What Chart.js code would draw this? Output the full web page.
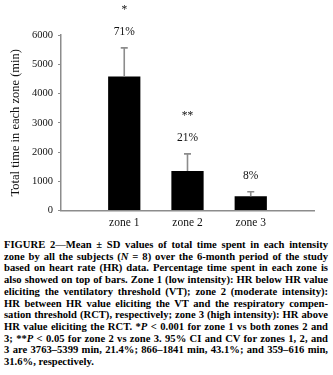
<!DOCTYPE html>
<html>
<head>
<meta charset="utf-8">
<script src="https://cdn.jsdelivr.net/npm/chart.js@4/dist/chart.umd.min.js"></script>
<style>
  html, body { margin: 0; padding: 0; background: #fff; }
  body { width: 333px; height: 375px; overflow: hidden; position: relative; }
  #wrap { position: absolute; left: 0; top: 0; width: 333px; height: 236px; }
  #caption { position: absolute; left: 4px; top: 239px; width: 324px;
    font-family: "Liberation Serif", "DejaVu Serif", serif; font-weight: bold;
    font-size: 10.6px; line-height: 11.7px; color: #000; }
  #caption div { text-align: justify; text-align-last: justify; white-space: nowrap; }
  #caption div.last { text-align-last: left; }
</style>
</head>
<body>
<div id="wrap"><canvas id="c"></canvas></div>
<div id="caption">
  <div>FIGURE 2—Mean ± SD values of total time spent in each intensity</div>
  <div>zone by all the subjects (<i>N</i> = 8) over the 6-month period of the study</div>
  <div>based on heart rate (HR) data. Percentage time spent in each zone is</div>
  <div>also showed on top of bars. Zone 1 (low intensity): HR below HR value</div>
  <div>eliciting the ventilatory threshold (VT); zone 2 (moderate intensity):</div>
  <div>HR between HR value eliciting the VT and the respiratory compen-</div>
  <div>sation threshold (RCT), respectively; zone 3 (high intensity): HR above</div>
  <div>HR value eliciting the RCT. *<i>P</i> &lt; 0.001 for zone 1 vs both zones 2 and</div>
  <div>3; **<i>P</i> &lt; 0.05 for zone 2 vs zone 3. 95% CI and CV for zones 1, 2, and</div>
  <div>3 are 3763–5399 min, 21.4%; 866–1841 min, 43.1%; and 359–616 min,</div>
  <div class="last">31.6%, respectively.</div>
</div>
<script>
// ---- data ----
const categories = ['', 'zone 1', 'zone 2', 'zone 3', ''];
const meanMinutes = [null, 4581, 1354, 488, null];
const sdMinutes = [null, 978, 583, 154, null];
const pctLabels = ['', '71%', '21%', '8%', ''];
const sigLabels = ['', '*', '**', '', ''];
const yTicks = [0, 1000, 2000, 3000, 4000, 5000, 6000];

// fit caption lines that overflow
document.querySelectorAll('#caption div').forEach(d => {
  const w = d.scrollWidth;
  if (w > 324) {
    d.style.letterSpacing = (-(w - 324) / d.textContent.length).toFixed(3) + 'px';
  }
});

const SERIF = '"Liberation Serif", "DejaVu Serif", serif';

const annotPlugin = {
  id: 'annot',
  afterDatasetsDraw(chart) {
    const ctx = chart.ctx;
    const meta = chart.getDatasetMeta(0);
    const y = chart.scales.y;
    ctx.save();
    meta.data.forEach((bar, i) => {
      if (meanMinutes[i] == null) return;
      const top = y.getPixelForValue(meanMinutes[i] + sdMinutes[i]);
      const base = y.getPixelForValue(meanMinutes[i]);
      // upper error whisker
      ctx.strokeStyle = '#8c8c8c';
      ctx.lineWidth = 1.6;
      ctx.beginPath();
      ctx.moveTo(bar.x, base);
      ctx.lineTo(bar.x, top);
      ctx.moveTo(bar.x - 3.5, top);
      ctx.lineTo(bar.x + 3.5, top);
      ctx.stroke();
      // labels
      ctx.fillStyle = '#111';
      ctx.textAlign = 'center';
      ctx.textBaseline = 'middle';
      ctx.font = '11.5px ' + SERIF;
      const pctY = top - 16;
      ctx.fillText(pctLabels[i], bar.x, pctY);
      if (sigLabels[i]) ctx.fillText(sigLabels[i], bar.x, pctY - 22);
    });
    ctx.restore();
  }
};

new Chart(document.getElementById('c'), {
  type: 'bar',
  data: {
    labels: categories,
    datasets: [{
      data: meanMinutes,
      backgroundColor: '#000',
      borderWidth: 0,
      categoryPercentage: 1,
      barPercentage: 0.51
    }]
  },
  options: {
    responsive: true,
    maintainAspectRatio: false,
    animation: false,
    layout: { padding: { top: 35, right: 19, left: 0, bottom: 0 } },
    plugins: { legend: { display: false }, tooltip: { enabled: false } },
    scales: {
      x: {
        offset: false,
        grid: { display: false, drawTicks: false },
        border: { display: true, color: '#8c8c8c', width: 1.5 },
        ticks: { color: '#111', font: { family: SERIF, size: 11.5 }, padding: 6, maxRotation: 0, autoSkip: false },
        afterFit(s) { s.height = 25.5; }
      },
      y: {
        min: 0, max: 6000,
        afterBuildTicks(s) { s.ticks = yTicks.map(v => ({ value: v })); },
        grid: { display: true, drawOnChartArea: false, drawTicks: true, tickLength: 3, color: '#8c8c8c' },
        border: { display: true, color: '#8c8c8c', width: 1.5 },
        ticks: { color: '#111', font: { family: SERIF, size: 10.5 }, padding: 5,
                 callback: v => String(v) },
        title: { display: true, text: 'Total time in each zone (min)', color: '#111',
                 font: { family: SERIF, size: 12.5 }, padding: { top: 8, bottom: 0 } },
        afterFit(s) { s.width = 61; }
      }
    }
  },
  plugins: [annotPlugin]
});
</script>
</body>
</html>
